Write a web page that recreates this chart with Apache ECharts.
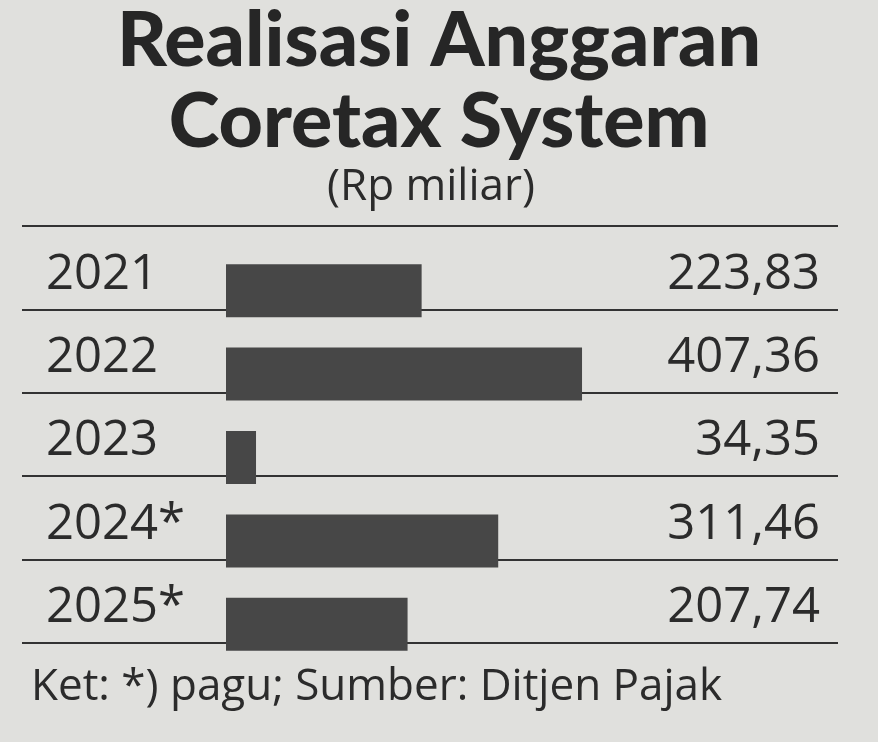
<!DOCTYPE html>
<html><head><meta charset="utf-8">
<script src="https://cdn.jsdelivr.net/npm/echarts@6/dist/echarts.min.js"></script>
<style>html,body{margin:0;padding:0;background:#e0e0dd;}#c{width:878px;height:742px;}</style>
</head><body><div id="c"></div>
<script>
const titleText = 'Realisasi Anggaran\nCoretax System';
const unitText = '(Rp miliar)';
const noteText = 'Ket: *) pagu; Sumber: Ditjen Pajak';
const years = ['2021', '2022', '2023', '2024*', '2025*'];
const values = [223.83, 407.36, 34.35, 311.46, 207.74];
const valueLabels = values.map(v => v.toFixed(2).replace('.', ','));

const ink = '#2b2b2b';
const chart = echarts.init(document.getElementById('c'));
chart.setOption({
  backgroundColor: '#e0e0dd',
  animation: false,
  title: [
    { text: titleText, left: 'center', top: -4,
      textStyle: { fontFamily: 'Lato', fontWeight: 900, fontSize: 77, lineHeight: 81, color: '#262626' } },
    { text: unitText, left: 322, top: 160,
      textStyle: { fontFamily: 'Open Sans', fontWeight: 'normal', fontSize: 44, color: ink } },
    { text: noteText, left: 26, top: 660,
      textStyle: { fontFamily: 'Open Sans', fontWeight: 'normal', fontSize: 44, color: ink } }
  ],
  grid: [
    { left: 22, right: 40, top: 226, height: 417 },
    { left: 226, width: 437, top: 249, height: 417 },
    { left: 22, right: 40, top: 233, height: 417 }
  ],
  xAxis: [
    { gridIndex: 0, type: 'value', min: 0, max: 1, show: false },
    { gridIndex: 1, type: 'value', min: 0, max: 500, show: false },
    { gridIndex: 2, type: 'value', min: 0, max: 1, show: false }
  ],
  yAxis: [
    { gridIndex: 0, type: 'category', data: years, inverse: true,
      axisLine: { show: false }, axisTick: { show: false }, axisLabel: { show: false },
      splitLine: { show: true, lineStyle: { color: '#333', width: 2 } } },
    { gridIndex: 2, type: 'category', data: years, inverse: true, position: 'left',
      axisLine: { show: false }, axisTick: { show: false }, splitLine: { show: false },
      axisLabel: { align: 'left', margin: -24, color: ink, fontFamily: 'Open Sans', fontSize: 49 } },
    { gridIndex: 2, type: 'category', data: valueLabels, inverse: true, position: 'right',
      axisLine: { show: false }, axisTick: { show: false }, splitLine: { show: false },
      axisLabel: { align: 'right', margin: -18, color: ink, fontFamily: 'Open Sans', fontSize: 49 } },
    { gridIndex: 1, type: 'category', data: years, inverse: true, show: false }
  ],
  series: [
    { type: 'bar', xAxisIndex: 1, yAxisIndex: 3, data: values, barWidth: 53,
      itemStyle: { color: '#474747' } }
  ]
});
</script></body></html>
